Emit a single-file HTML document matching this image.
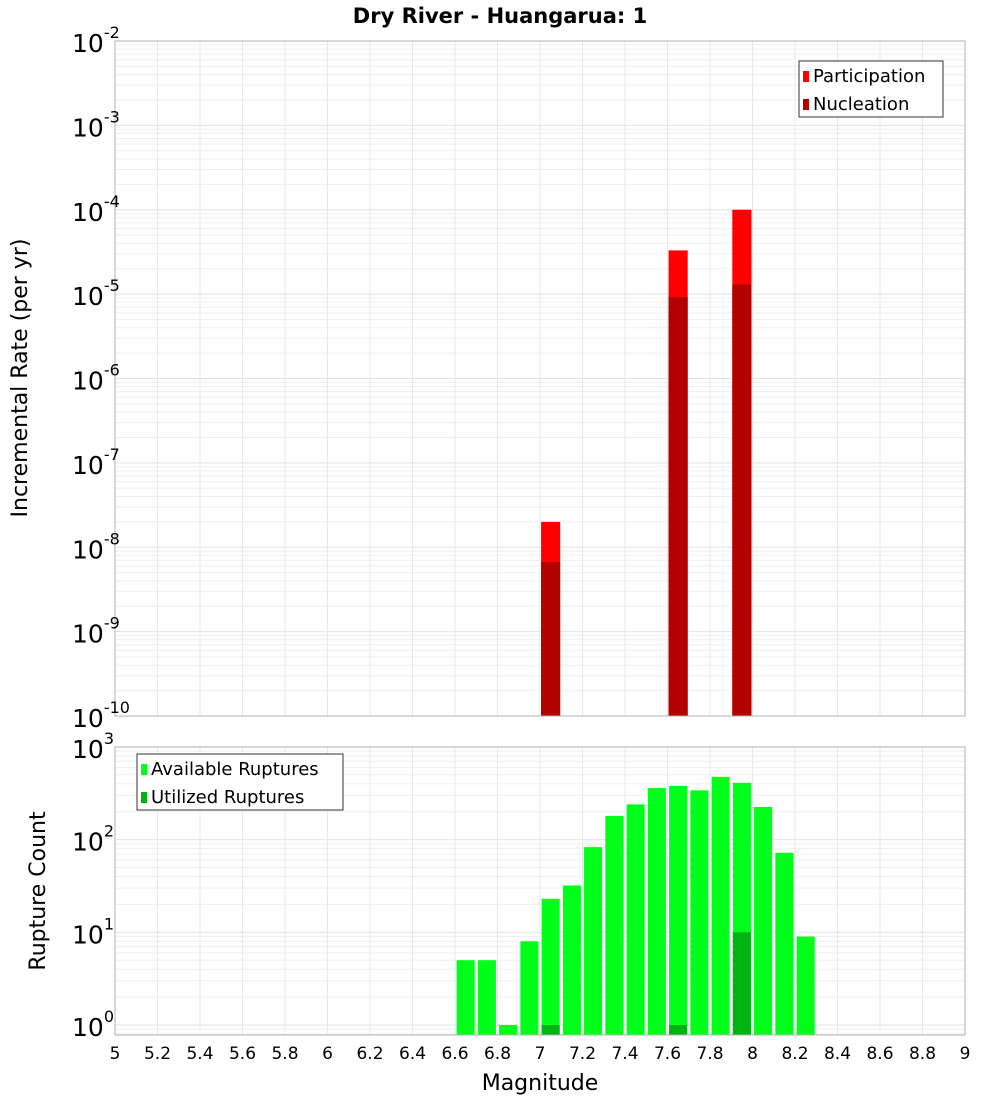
<!DOCTYPE html>
<html><head><meta charset="utf-8"><style>
body{margin:0;background:#fff;}
svg text{font-family:"DejaVu Sans","Liberation Sans",sans-serif;}
</style></head><body>
<svg id="c" width="1000" height="1100" xmlns="http://www.w3.org/2000/svg">
<text x="500" y="23" text-anchor="middle" font-size="21" font-weight="bold">Dry River - Huangarua: 1</text>
<text transform="translate(27,378) rotate(-90)" text-anchor="middle" font-size="22">Incremental Rate (per yr)</text>
<text transform="translate(45,891) rotate(-90)" text-anchor="middle" font-size="22">Rupture Count</text>
<text x="540" y="1090" text-anchor="middle" font-size="22">Magnitude</text>
<g id="g"></g>
</svg>
<script>
const magCenters=[7.05,7.65,7.95];
const participation=[2e-8,3.3e-5,1e-4];
const nucleation=[6.7e-9,9.2e-6,1.3e-5];
const ruptMags=[6.65,6.75,6.85,6.95,7.05,7.15,7.25,7.35,7.45,7.55,7.65,7.75,7.85,7.95,8.05,8.15,8.25];
const available=[5,5,1,8,23,32,83,180,240,360,380,340,475,410,225,72,9];
const utilMags=[7.05,7.65,7.95];
const utilized=[1,1,10];
const xTicks=[5,5.2,5.4,5.6,5.8,6,6.2,6.4,6.6,6.8,7,7.2,7.4,7.6,7.8,8,8.2,8.4,8.6,8.8,9];
const topExps=[-10,-9,-8,-7,-6,-5,-4,-3,-2];
const botExps=[0,1,2,3];

const NS='http://www.w3.org/2000/svg';
const g=document.getElementById('g');
function mk(t,a,p){const e=document.createElementNS(NS,t);for(const k in a)e.setAttribute(k,a[k]);(p||g).appendChild(e);return e;}
const L=115,R=965;
const X=m=>L+(m-5)/4*(R-L);
const T0=41,T1=716;const yT=v=>T1-(Math.log10(v)+10)/8*(T1-T0);
const B0=747,B1=1035;const dec=92.7;const yB=v=>1025-Math.log10(v)*dec;

// top panel
mk('rect',{x:L,y:T0,width:R-L,height:T1-T0,fill:'#fff'});
for(let e=-10;e<-2;e++)for(let k=1;k<10;k++){const y=yT(k*Math.pow(10,e));
 const ln=mk('line',{x1:L,x2:R,y1:y,y2:y,stroke:k==1?'#e2e2e2':'#efefef','stroke-width':1});
 }
// bottom panel grid
for(let e=-1;e<3;e++)for(let k=1;k<10;k++){const y=yB(k*Math.pow(10,e));if(y<B0||y>B1)continue;
 const ln=mk('line',{x1:L,x2:R,y1:y,y2:y,stroke:k==1?'#e2e2e2':'#efefef','stroke-width':1});
 }
xTicks.forEach(t=>{const x=X(t);
 mk('line',{x1:x,x2:x,y1:T0,y2:T1,stroke:'#e8e8e8'});
 mk('line',{x1:x,x2:x,y1:B0,y2:B1,stroke:'#e8e8e8'});
 const tx=mk('text',{x:x,y:1059,'text-anchor':'middle','font-size':17});tx.textContent=t;
 });

const bw=0.09*(R-L)/4;
magCenters.forEach((m,i)=>{
 const x=X(m)-bw/2;
 const p=mk('rect',{x:x,y:yT(participation[i]),width:bw,height:T1-yT(participation[i]),fill:'#ff0000'});
 
 const n=mk('rect',{x:x,y:yT(nucleation[i]),width:bw,height:T1-yT(nucleation[i]),fill:'#b30000'});
 });
const bw2=0.085*(R-L)/4;
ruptMags.forEach((m,i)=>{const y=yB(available[i]);
 const r=mk('rect',{x:X(m)-bw2/2,y:y,width:bw2,height:B1-y,fill:'#00ff1a'});
 });
utilMags.forEach((m,i)=>{const y=yB(utilized[i]);
 const r=mk('rect',{x:X(m)-bw2/2,y:y,width:bw2,height:B1-y,fill:'#00b312'});
 });

mk('rect',{x:L,y:T0,width:R-L,height:T1-T0,fill:'none',stroke:'#b0b0b0'});
mk('rect',{x:L,y:B0,width:R-L,height:B1-B0,fill:'none',stroke:'#b0b0b0'});

function ylab(y,e,name){const t=mk('text',{x:72,y:y+11,'font-size':25});
 
 t.textContent='10';const s=mk('tspan',{dy:-14,'font-size':16},t);s.textContent=e;}
topExps.forEach(e=>ylab(yT(Math.pow(10,e)),e,'top-y-tick-label'));
botExps.forEach(e=>ylab(yB(Math.pow(10,e)),e,'bottom-y-tick-label'));

function legend(x,y,w,items,name){const lg=mk('g',{});
 mk('rect',{x:x,y:y,width:w,height:56,fill:'#fff',stroke:'#333'},lg);
 items.forEach((it,i)=>{mk('rect',{x:x+4,y:y+10+i*28,width:6,height:11,fill:it[1]},lg);
 const t=mk('text',{x:x+14,y:y+21+i*28,'font-size':18},lg);t.textContent=it[0];});}
legend(799,61,144,[['Participation','#ff0000'],['Nucleation','#b30000']],'top-legend');
legend(137,754,206,[['Available Ruptures','#00ff1a'],['Utilized Ruptures','#00b312']],'bottom-legend');
</script>
</body></html>
